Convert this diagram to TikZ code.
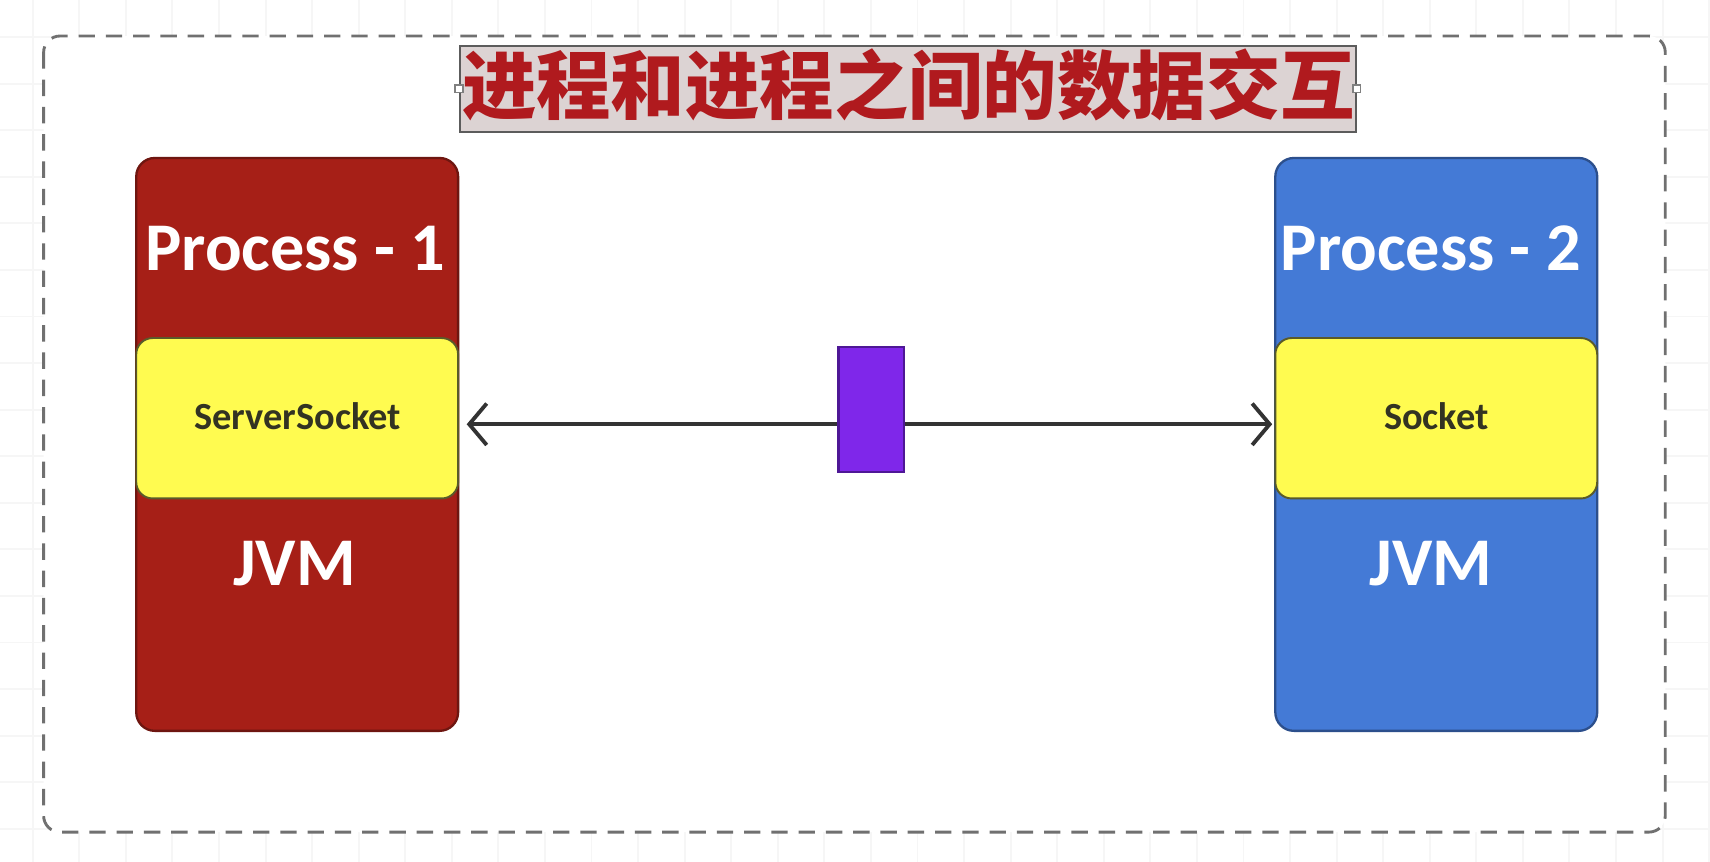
\documentclass[tikz,border=0pt]{standalone}
\usepackage{fontspec}
\setmainfont{Carlito}
\newfontfamily\cjk{Noto Sans CJK SC}
\usetikzlibrary{arrows.meta}
\definecolor{procred}{HTML}{A61F17}
\definecolor{procredline}{HTML}{6E1610}
\definecolor{procblue}{HTML}{447AD6}
\definecolor{procblueline}{HTML}{2C4F8C}
\definecolor{sockyellow}{HTML}{FFFB50}
\definecolor{sockline}{HTML}{5A5A2A}
\definecolor{packpurple}{HTML}{7F27EA}
\definecolor{packline}{HTML}{4E1796}
\definecolor{titlefill}{HTML}{DCD3D3}
\definecolor{titletext}{HTML}{B01A1E}
\definecolor{framegray}{HTML}{707070}
\definecolor{gridgray}{HTML}{F6F6F6}
\definecolor{arrowgray}{HTML}{333333}
\definecolor{socktext}{HTML}{333322}
\tikzset{
  procbox/.style={rectangle, rounded corners=0.17cm, minimum width=2.95cm, minimum height=5.25cm, line width=0.6pt, inner sep=0pt},
  sockbox/.style={rectangle, rounded corners=0.15cm, fill=sockyellow, draw=sockline, line width=0.5pt, minimum width=2.95cm, minimum height=1.47cm, inner sep=0pt},
  proclabel/.style={text=white, font=\fontsize{17.8}{20}\selectfont\bfseries, inner sep=0pt},
  socklabel/.style={text=socktext, font=\fontsize{10}{12}\selectfont\bfseries, inner sep=0pt},
  handle/.style={rectangle, draw=gray, fill=white, line width=0.4pt, minimum size=0.07cm, inner sep=0pt},
  msgarrow/.style={draw=arrowgray, line width=1.0pt, {Straight Barb[length=0.16cm, width=0.38cm, line width=1.0pt]}-{Straight Barb[length=0.16cm, width=0.38cm, line width=1.0pt]}}
}
\begin{document}
\begin{tikzpicture}[x=0.01cm, y=-0.01cm]
\useasboundingbox (0,0) rectangle (1568,790);
\fill[white] (0,0) rectangle (1568,790);
% faint background grid
\foreach \gx in {30,72.7,...,1568} \draw[gridgray, line width=0.5pt] (\gx,0) -- (\gx,790);
\foreach \gy in {34,76.7,...,790} \draw[gridgray, line width=0.5pt] (0,\gy) -- (1568,\gy);
% frame
\draw[framegray, line width=0.75pt, dash pattern=on 0.15cm off 0.10cm, rounded corners=0.15cm, fill=white] (40,33) rectangle (1527,763);
% title
\node[rectangle, fill=titlefill, draw=arrowgray!80, line width=0.5pt, minimum width=8.21cm, minimum height=0.79cm, inner sep=0pt] (title) at (832.5,81.5) {};
\node[text=titletext, font=\cjk\bfseries\fontsize{19.4}{22}\selectfont, inner sep=0pt] (titletxt) at (833,78) {进程和进程之间的数据交互};
\node[handle] (hl) at (title.west) {};
\node[handle] (hr) at (title.east) {};
% process 1
\node[procbox, fill=procred, draw=procredline] (p1) at (272.5,407.5) {};
\node[sockbox] (s1) at (272.5,383.5) {};
\node[socklabel] (s1t) at (273,382) {ServerSocket};
\node[proclabel] (p1t) at (271,228) {Process - 1};
\node[proclabel] (j1) at (270,517) {JVM};
% process 2
\node[procbox, fill=procblue, draw=procblueline] (p2) at (1317,407.5) {};
\node[sockbox] (s2) at (1317,383.5) {};
\node[socklabel] (s2t) at (1317,382) {Socket};
\node[proclabel] (p2t) at (1312,228) {Process - 2};
\node[proclabel] (j2) at (1312,517) {JVM};
% arrow
\draw[msgarrow, shorten <=0.07cm, shorten >=0.02cm] ([yshift=-0.055cm]s1.east) -- ([yshift=-0.055cm]s2.west);
% packet
\node[rectangle, fill=packpurple, draw=packline, line width=0.6pt, minimum width=0.6cm, minimum height=1.15cm, inner sep=0pt] (pkt) at (799,375.5) {};
\end{tikzpicture}
\end{document}
